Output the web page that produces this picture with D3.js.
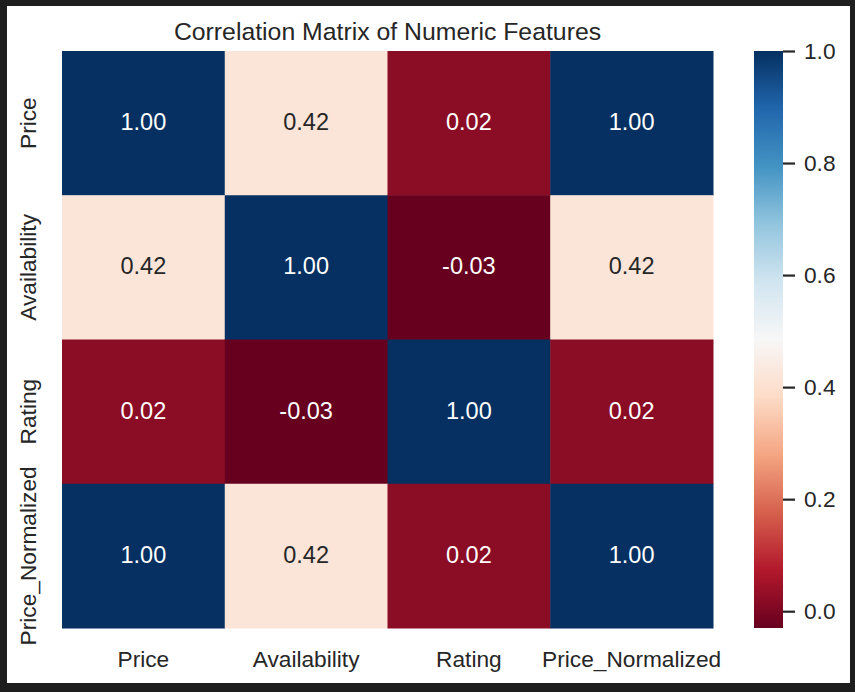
<!DOCTYPE html>
<html>
<head>
<meta charset="utf-8">
<script src="https://cdn.jsdelivr.net/npm/d3@7"></script>
<style>
  body { margin: 0; background: #1e1e1e; }
  svg { display: block; }
  text { font-family: "Liberation Sans", Arial, sans-serif; fill: #262626; }
</style>
</head>
<body>
<div id="chart"></div>
<script>
// features shown on both axes
const features = ["Price", "Availability", "Rating", "Price_Normalized"]

// one row of the correlation matrix per feature
const rowPrice = [1.00, 0.42, 0.02, 1.00]
const rowAvailability = [0.42, 1.00, -0.03, 0.42]
const rowRating = [0.02, -0.03, 1.00, 0.02]
const rowPriceNormalized = [1.00, 0.42, 0.02, 1.00]

const colorbarTicks = [0.0, 0.2, 0.4, 0.6, 0.8, 1.0]

// matplotlib RdBu knots (linear segments)
const rdbuColors = ["#67001f", "#b2182b", "#d6604d", "#f4a582", "#fddbc7", "#f7f7f7",
                    "#d1e5f0", "#92c5de", "#4393c3", "#2166ac", "#053061"]

const chartTitle = "Correlation Matrix of Numeric Features"

const rows = [rowPrice, rowAvailability, rowRating, rowPriceNormalized]
const cells = []
rows.forEach((row, i) => row.forEach((v, j) => cells.push({row: features[i], col: features[j], value: v})))

const W = 855, H = 692
const plot = {left: 62, right: 713, top: 51, bottom: 628}
const cbar = {left: 754, right: 783}

const vmin = d3.min(cells, d => d.value)
const vmax = d3.max(cells, d => d.value)

const norm = d3.scaleLinear().domain([vmin, vmax]).range([0, 1])
const cmap = d3.scaleLinear()
    .domain(rdbuColors.map((c, i) => i / (rdbuColors.length - 1)))
    .range(rdbuColors)
    .interpolate(d3.interpolateRgb)
const color = v => cmap(norm(v))

const svg = d3.select("#chart").append("svg")
    .attr("width", W)
    .attr("height", H)

//white figure area inside the dark frame
svg.append("rect")
    .attr("x", 7).attr("y", 6)
    .attr("width", 843).attr("height", 677)
    .attr("fill", "#ffffff")

const x = d3.scaleBand().domain(features).range([plot.left, plot.right])
const y = d3.scaleBand().domain(features).range([plot.top, plot.bottom])

//cells
svg.append("g").selectAll("rect")
    .data(cells)
    .join("rect")
    .attr("x", d => x(d.col))
    .attr("y", d => y(d.row))
    .attr("width", x.bandwidth() + 0.5)
    .attr("height", y.bandwidth() + 0.5)
    .attr("fill", d => color(d.value))

//annotations, colour picked on luminance like seaborn
const annFont = 23.5
svg.append("g").selectAll("text")
    .data(cells)
    .join("text")
    .attr("x", d => x(d.col) + x.bandwidth() / 2)
    .attr("y", d => y(d.row) + y.bandwidth() / 2 + 7)
    .attr("text-anchor", "middle")
    .style("font-size", annFont + "px")
    .style("fill", d => {
        const c = d3.rgb(color(d.value))
        const lin = k => { k /= 255; return k <= 0.03928 ? k / 12.92 : Math.pow((k + 0.055) / 1.055, 2.4) }
        const lum = 0.2126 * lin(c.r) + 0.7152 * lin(c.g) + 0.0722 * lin(c.b)
        return lum > 0.408 ? "#262626" : "#ffffff"
    })
    .text(d => d.value.toFixed(2))

//x axis labels
const xAxis = svg.append("g")
    .attr("transform", `translate(0,${plot.bottom})`)
    .call(d3.axisBottom(x).tickSize(0).tickPadding(0))
xAxis.select(".domain").remove()
xAxis.selectAll("text")
    .attr("y", 39)
    .attr("dy", null)
    .style("font-size", "22.7px")
    .style("font-family", '"Liberation Sans", Arial, sans-serif')
    .style("fill", "#262626")

//y axis labels, rotated
const yAxis = svg.append("g")
    .attr("transform", `translate(${plot.left},0)`)
    .call(d3.axisLeft(y).tickSize(0).tickPadding(0))
yAxis.select(".domain").remove()
yAxis.selectAll(".tick text")
    .attr("x", null).attr("dy", null)
    .attr("text-anchor", "middle")
    .attr("transform", "translate(-26,0) rotate(-90)")
    .style("font-size", "22.7px")
    .style("font-family", '"Liberation Sans", Arial, sans-serif')
    .style("fill", "#262626")

//title
svg.append("text")
    .attr("x", (plot.left + plot.right) / 2)
    .attr("y", 40)
    .attr("text-anchor", "middle")
    .style("font-size", "24.8px")
    .text(chartTitle)

//colorbar
const cbScale = d3.scaleLinear().domain([vmin, vmax]).range([plot.bottom, plot.top])
const grad = svg.append("defs").append("linearGradient")
    .attr("id", "cbgrad")
    .attr("x1", 0).attr("y1", 1).attr("x2", 0).attr("y2", 0)
grad.selectAll("stop")
    .data(cmap.domain())
    .join("stop")
    .attr("offset", d => d)
    .attr("stop-color", d => cmap(d))

svg.append("rect")
    .attr("x", cbar.left)
    .attr("y", plot.top)
    .attr("width", cbar.right - cbar.left)
    .attr("height", plot.bottom - plot.top)
    .attr("fill", "url(#cbgrad)")

const cbAxis = svg.append("g")
    .attr("transform", `translate(${cbar.right},0)`)
    .call(d3.axisRight(cbScale).tickValues(colorbarTicks).tickFormat(d3.format(".1f")).tickSize(12).tickPadding(9))
cbAxis.select(".domain").remove()
cbAxis.selectAll("line")
    .attr("stroke", "#262626")
    .attr("stroke-width", 2.2)
cbAxis.selectAll("text")
    .style("font-size", "22.7px")
    .style("font-family", '"Liberation Sans", Arial, sans-serif')
    .style("fill", "#262626")
</script>
</body>
</html>
